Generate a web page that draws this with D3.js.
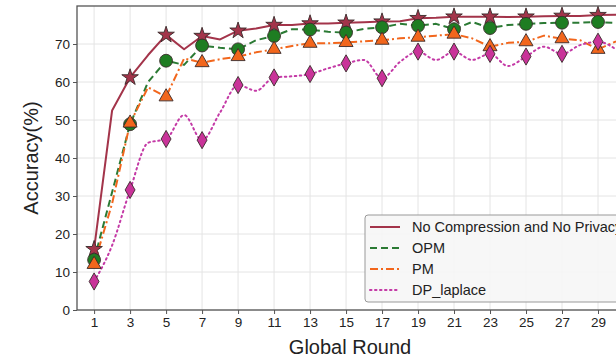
<!DOCTYPE html>
<html>
<head>
<meta charset="utf-8">
<script src="https://cdn.jsdelivr.net/npm/d3@7"></script>
<style>
  body { margin: 0; overflow: hidden; background: #fff; }
  svg { display: block; font-family: "Liberation Sans", Arial, sans-serif; }
</style>
</head>
<body>
<div id="chart"></div>
<script>
const rounds = [1,2,3,4,5,6,7,8,9,10,11,12,13,14,15,16,17,18,19,20,21,22,23,24,25,26,27,28,29,30]
const xTicks = [1,3,5,7,9,11,13,15,17,19,21,23,25,27,29]
const yTicks = [0,10,20,30,40,50,60,70]

const noCompression = [16, 52.5, 61.2, 67.1, 72.4, 68.6, 72.1, 71.2, 73.5, 74.1, 75, 75, 75.4, 75.4, 75.6, 75.7, 75.9, 76, 76.8, 76.9, 77.2, 77.2, 77.2, 77.1, 77.2, 77.3, 77.4, 77.4, 77.6, 77.7]
const opm = [13.2, 31, 48.9, 60, 65.6, 64.5, 69.6, 69, 68.6, 71, 72.1, 73.9, 73.8, 73.2, 73, 74, 74.4, 75.3, 74.8, 75.3, 73.9, 75.8, 74.2, 75, 75.3, 75.5, 75.6, 75.6, 75.8, 75.5]
const pm = [12, 28, 49.2, 58.6, 56.1, 66.2, 65.1, 66, 66.7, 67.8, 68.6, 69.5, 70.2, 70.2, 70.4, 70.7, 71, 71.5, 71.8, 72.2, 72.6, 71.5, 69.3, 70.3, 70.6, 72.2, 71.4, 71, 68.6, 70.7]
const dpLaplace = [7.5, 17, 31.6, 44, 45, 51.3, 44.7, 52, 59.2, 57.7, 61.2, 61.5, 62.1, 63.6, 64.9, 65.8, 61, 65.3, 68, 65.8, 68, 65.8, 67.4, 64.2, 66.7, 69.3, 67.4, 69.7, 70.6, 68.6]

const seriesNames = ["No Compression and No Privacy", "OPM", "PM", "DP_laplace"]

const series = [
  {name: seriesNames[0], values: noCompression, color: "#a3344a", fill: "#a3344a", dash: null, curve: d3.curveLinear, symbol: d3.symbolStar, size: 85},
  {name: seriesNames[1], values: opm, color: "#2b7a34", fill: "#1e7d22", dash: "7,4", curve: d3.curveLinear, symbol: d3.symbolCircle, size: 130},
  {name: seriesNames[2], values: pm, color: "#f2661c", fill: "#f2661c", dash: "8,3,2,3", curve: d3.curveLinear, symbol: d3.symbolTriangle, size: 85},
  {name: seriesNames[3], values: dpLaplace, color: "#c43aa6", fill: "#c93399", dash: "1.5,3.5", curve: d3.curveMonotoneX, symbol: d3.symbolDiamond, size: 85}
]

const svgWidth = 640
const svgHeight = 358
const plot = {left: 77, right: 625, top: 6, bottom: 310}

const svg = d3.select("#chart").append("svg")
  .attr("width", svgWidth)
  .attr("height", svgHeight)

const x = d3.scaleLinear().domain([0.05, 30.5]).range([plot.left, plot.right])
const y = d3.scaleLinear().domain([0, 80]).range([plot.bottom, plot.top])

// grid
svg.append("g")
  .selectAll("line")
  .data(xTicks)
  .join("line")
  .attr("x1", d => x(d)).attr("x2", d => x(d))
  .attr("y1", plot.top).attr("y2", plot.bottom)
  .attr("stroke", "#e4e4e4")
svg.append("g")
  .selectAll("line")
  .data(yTicks)
  .join("line")
  .attr("x1", plot.left).attr("x2", plot.right)
  .attr("y1", d => y(d)).attr("y2", d => y(d))
  .attr("stroke", "#e4e4e4")

// axes
const xAxis = svg.append("g")
  .attr("transform", `translate(0, ${plot.bottom})`)
  .call(d3.axisBottom(x).tickValues(xTicks).tickSize(4).tickPadding(3))
const yAxis = svg.append("g")
  .attr("transform", `translate(${plot.left}, 0)`)
  .call(d3.axisLeft(y).tickValues(yTicks).tickSize(4).tickPadding(3))

for (const ax of [xAxis, yAxis]) {
  ax.select(".domain").remove()
  ax.selectAll("line").attr("stroke", "#555")
  ax.selectAll("text").attr("font-size", 13.5).attr("fill", "#222")
    .attr("font-family", "Liberation Sans, Arial, sans-serif")
}

// frame
svg.append("rect")
  .attr("x", plot.left).attr("y", plot.top)
  .attr("width", plot.right - plot.left).attr("height", plot.bottom - plot.top)
  .attr("fill", "none")
  .attr("stroke", "#555")
  .attr("stroke-width", 1.3)

series.forEach(s => {
  const line = d3.line()
    .x((d, i) => x(rounds[i]))
    .y(d => y(d))
    .curve(s.curve)
  svg.append("path")
    .datum(s.values)
    .attr("fill", "none")
    .attr("stroke", s.color)
    .attr("stroke-width", 2)
    .attr("stroke-dasharray", s.dash)
    .attr("stroke-linecap", s.dash === "1.5,3.5" ? "round" : "butt")
    .attr("stroke-linejoin", "round")
    .attr("d", line)
})

series.forEach(s => {
  const pts = s.values.map((v, i) => ({r: rounds[i], v})).filter(d => d.r % 2 === 1)
  svg.append("g")
    .selectAll("path")
    .data(pts)
    .join("path")
    .attr("transform", d => `translate(${x(d.r)}, ${y(d.v)})`)
    .attr("d", d3.symbol().type(s.symbol).size(s.size))
    .attr("fill", s.fill)
    .attr("stroke", "#3a2a2a")
    .attr("stroke-width", 0.9)
})

// axis titles
svg.append("text")
  .attr("x", 350).attr("y", 354)
  .attr("text-anchor", "middle")
  .attr("font-size", 20)
  .attr("fill", "#222")
  .text("Global Round")

svg.append("text")
  .attr("transform", "translate(38, 158) rotate(-90)")
  .attr("text-anchor", "middle")
  .attr("font-size", 20)
  .attr("fill", "#222")
  .text("Accuracy(%)")

// legend
const legend = svg.append("g").attr("transform", "translate(365, 215)")
legend.append("rect")
  .attr("width", 300).attr("height", 87)
  .attr("rx", 3)
  .attr("fill", "#f6f6f6")
  .attr("fill-opacity", 0.9)
  .attr("stroke", "#999")

series.forEach((s, i) => {
  const g = legend.append("g").attr("transform", `translate(0, ${12 + i * 21})`)
  g.append("line")
    .attr("x1", 5).attr("x2", 35)
    .attr("stroke", s.color)
    .attr("stroke-width", 2)
    .attr("stroke-dasharray", s.dash)
    .attr("stroke-linecap", s.dash === "1.5,3.5" ? "round" : "butt")
  g.append("text")
    .attr("x", 47).attr("y", 5)
    .attr("font-size", 14.5)
    .attr("fill", "#222")
    .text(s.name)
})
</script>
</body>
</html>
